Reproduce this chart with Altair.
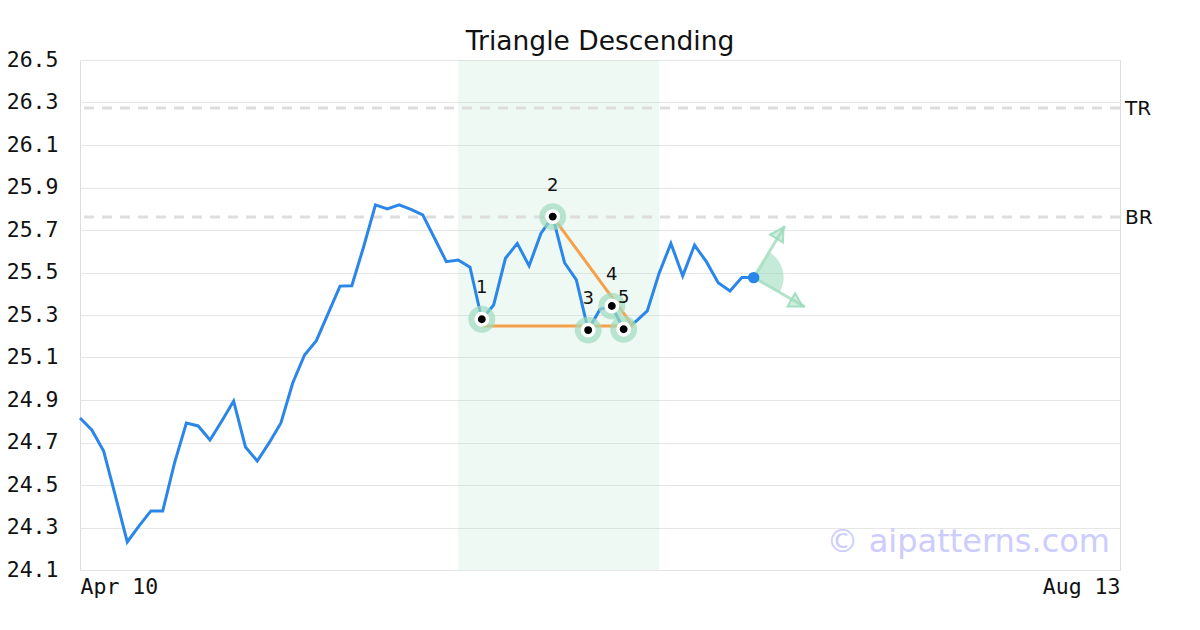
import altair as alt
import pandas as pd

# ---- data ----
close = [24.815, 24.759, 24.66, 24.448, 24.232, 24.308, 24.378, 24.378, 24.604, 24.792,
         24.778, 24.712, 24.801, 24.895, 24.679, 24.613, 24.698, 24.792, 24.98, 25.112,
         25.179, 25.308, 25.436, 25.438, 25.621, 25.818, 25.799, 25.818, 25.797, 25.771,
         25.661, 25.551, 25.559, 25.525, 25.28, 25.347, 25.567, 25.637, 25.531, 25.684,
         25.763, 25.546, 25.465, 25.229, 25.327, 25.342, 25.233, 25.268, 25.319, 25.496,
         25.637, 25.484, 25.629, 25.551, 25.452, 25.413, 25.476, 25.476]
idx = list(range(len(close)))

pivot_idx = [34, 40, 43, 45, 46]
pivot_lbl = ["1", "2", "3", "4", "5"]

tri_x1 = [34, 40]
tri_y1 = [25.248, 25.763]
tri_x2 = [46.8, 46.8]
tri_y2 = [25.248, 25.248]

zone_start, zone_end = 32, 49
levels = [26.274, 25.761]
level_names = ["TR", "BR"]

arrow_x2 = [59.65, 61.35]
arrow_y2 = [25.719, 25.338]
head_x = [59.23, 60.67]
head_y = [25.686, 25.356]
head_angle = [32, 120]

title_text = "Triangle Descending"
x_labels = ["Apr 10", "Aug 13"]
x_max = 88
y_min, y_max = 24.1, 26.5
y_ticks = [24.1, 24.3, 24.5, 24.7, 24.9, 25.1, 25.3, 25.5, 25.7, 25.9, 26.1, 26.3, 26.5]

# ---- tables ----
line_df = pd.DataFrame({"i": idx, "v": close})
piv_df = pd.DataFrame({"i": pivot_idx, "v": [close[k] for k in pivot_idx], "lbl": pivot_lbl})
tri_df = pd.DataFrame({"x": tri_x1, "y": tri_y1, "x2": tri_x2, "y2": tri_y2})
zone_df = pd.DataFrame({"x": [zone_start], "x2": [zone_end], "y": [y_min], "y2": [y_max]})
lvl_df = pd.DataFrame({"y": levels, "name": level_names})
last_df = pd.DataFrame({"i": [idx[-1]], "v": [close[-1]]})
arr_df = pd.DataFrame({"x": [idx[-1]] * 2, "y": [close[-1]] * 2, "x2": arrow_x2, "y2": arrow_y2})
head_df = pd.DataFrame({"x": head_x, "y": head_y, "a": head_angle})

xs = alt.Scale(domain=[0, x_max], nice=False, zero=False)
ys = alt.Scale(domain=[y_min, y_max], nice=False, zero=False)

X = alt.X("i:Q", scale=xs, axis=alt.Axis(
    values=[0, x_max], labelExpr=f"datum.value == 0 ? '{x_labels[0]}' : '{x_labels[1]}'",
    labelFlush=True, grid=False, ticks=False, domain=False, title=None,
    labelFont="DejaVu Sans Mono", labelFontSize=21.5, labelColor="#111", labelPadding=6))
Y = alt.Y("v:Q", scale=ys, axis=alt.Axis(
    values=y_ticks, format=".1f", grid=True, gridColor="#e6e6e6", gridWidth=1,
    ticks=False, domain=False, title=None,
    labelFont="DejaVu Sans Mono", labelFontSize=21.5, labelColor="#111", labelPadding=22))

GREEN = "#9fdcbd"

zone = alt.Chart(zone_df).mark_rect(color=GREEN, opacity=0.17).encode(
    x=alt.X("x:Q", scale=xs), x2="x2", y=alt.Y("y:Q", scale=ys), y2="y2")

base_line = alt.Chart(line_df).mark_line(color="#2a86e8", strokeWidth=3).encode(x=X, y=Y)

lvl = alt.Chart(lvl_df).mark_rule(color="#dddddd", strokeWidth=3, strokeDash=[10, 8]).encode(
    y=alt.Y("y:Q", scale=ys))
lvl_txt = alt.Chart(lvl_df).mark_text(align="left", baseline="middle", font="DejaVu Sans",
                                      fontSize=20, color="#111", dy=1).encode(
    y=alt.Y("y:Q", scale=ys), x=alt.value(1045), text="name:N")

tri = alt.Chart(tri_df).mark_rule(color="#f5a04a", strokeWidth=3).encode(
    x=alt.X("x:Q", scale=xs), y=alt.Y("y:Q", scale=ys), x2="x2", y2="y2")

halo = alt.Chart(piv_df).mark_circle(size=720, color=GREEN, opacity=0.7).encode(
    x=alt.X("i:Q", scale=xs), y=alt.Y("v:Q", scale=ys))
dots = alt.Chart(piv_df).mark_circle(size=130, color="black", stroke="white", strokeWidth=3.5,
                                     opacity=1).encode(
    x=alt.X("i:Q", scale=xs), y=alt.Y("v:Q", scale=ys))
nums = alt.Chart(piv_df).mark_text(dy=-31, font="DejaVu Sans", fontSize=18, color="#111",
                                   baseline="middle").encode(
    x=alt.X("i:Q", scale=xs), y=alt.Y("v:Q", scale=ys), text="lbl:N")

arc = alt.Chart(last_df).mark_arc(radius=30, theta=0.56, theta2=2.09, color=GREEN,
                                  opacity=0.6).encode(
    x=alt.X("i:Q", scale=xs), y=alt.Y("v:Q", scale=ys))
arrows = alt.Chart(arr_df).mark_rule(color=GREEN, strokeWidth=3, opacity=0.8).encode(
    x=alt.X("x:Q", scale=xs), y=alt.Y("y:Q", scale=ys), x2="x2", y2="y2")
heads = alt.Chart(head_df).mark_point(shape="triangle-up", size=230, filled=True,
                                      fill=GREEN, fillOpacity=0.5, stroke=GREEN,
                                      strokeWidth=2, strokeOpacity=0.9).encode(
    x=alt.X("x:Q", scale=xs), y=alt.Y("y:Q", scale=ys), angle=alt.Angle("a:Q", scale=None))
last_dot = alt.Chart(last_df).mark_circle(size=130, color="#2a86e8", opacity=1).encode(
    x=alt.X("i:Q", scale=xs), y=alt.Y("v:Q", scale=ys))

wm = alt.Chart(pd.DataFrame({"t": ["© aipatterns.com"]})).mark_text(
    align="right", baseline="middle", font="DejaVu Sans", fontSize=32, color="#ccccff").encode(
    x=alt.value(1030), y=alt.value(482), text="t:N")

title = alt.Chart(pd.DataFrame({"t": [title_text]})).mark_text(
    align="center", baseline="alphabetic", font="DejaVu Sans", fontSize=26.5,
    color="#111").encode(x=alt.value(520), y=alt.value(-10), text="t:N")

chart = alt.layer(zone, lvl, base_line, tri, halo, dots, nums, arc, arrows, heads, last_dot,
                  wm, lvl_txt, title).properties(
    width=1040, height=510,
    padding={"left": 72, "top": 52, "right": 72, "bottom": 52},
    autosize="none",
).configure_view(stroke="#e0e0e0", strokeWidth=3).configure(background="white")

chart.save("out.html", embed_options={"renderer": "svg", "actions": False})
